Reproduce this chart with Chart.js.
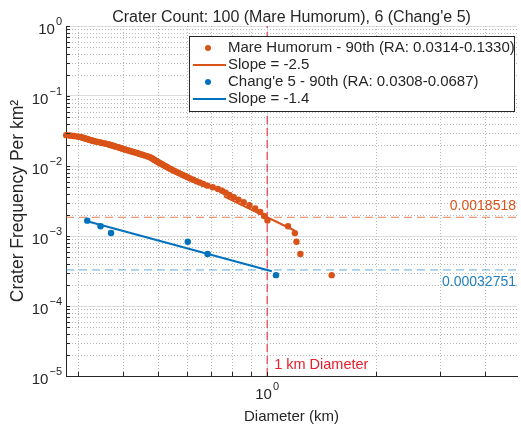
<!DOCTYPE html>
<html>
<head>
<meta charset="utf-8">
<script src="https://cdn.jsdelivr.net/npm/chart.js@4.4.1/dist/chart.umd.min.js"></script>
<style>
  html, body { margin: 0; padding: 0; background: #fff; }
</style>
</head>
<body>
<canvas id="craterChart" width="521" height="427"></canvas>
<script>
// contagem de crateras: Mare Humorum x Chang'e 5
const titulo = "Crater Count: 100 (Mare Humorum), 6 (Chang'e 5)";
const tituloX = 'Diameter (km)';
const tituloY = 'Crater Frequency Per km\u00B2';

const humorumD = [
  0.2790, 0.2846, 0.2886, 0.2929, 0.2970, 0.3013, 0.3061, 0.3080, 0.3099, 0.3119,
  0.3144, 0.3162, 0.3189, 0.3209, 0.3229, 0.3256, 0.3283, 0.3304, 0.3334, 0.3364,
  0.3405, 0.3446, 0.3486, 0.3528, 0.3570, 0.3611, 0.3645, 0.3675, 0.3707, 0.3738,
  0.3779, 0.3809, 0.3841, 0.3882, 0.3914, 0.3957, 0.3989, 0.4032, 0.4075, 0.4117,
  0.4162, 0.4206, 0.4249, 0.4295, 0.4350, 0.4395, 0.4448, 0.4494, 0.4551, 0.4606,
  0.4665, 0.4721, 0.4766, 0.4802, 0.4832, 0.4865, 0.4897, 0.4934, 0.4971, 0.5012,
  0.5050, 0.5095, 0.5143, 0.5192, 0.5242, 0.5292, 0.5345, 0.5403, 0.5461, 0.5530,
  0.5604, 0.5682, 0.5765, 0.5853, 0.5934, 0.6033, 0.6133, 0.6254, 0.6381, 0.6519,
  0.6669, 0.6848, 0.7077, 0.7317, 0.7508, 0.7686, 0.7877, 0.8089, 0.8338, 0.8618,
  0.8937, 0.9271, 0.9568, 0.9813, 1.002, 1.142, 1.193, 1.205, 1.235, 1.507
];
const humorumF = [
  0.02760, 0.02733, 0.02705, 0.02677, 0.02650, 0.02622, 0.02595, 0.02567, 0.02539, 0.02512,
  0.02484, 0.02457, 0.02429, 0.02401, 0.02374, 0.02346, 0.02319, 0.02291, 0.02263, 0.02236,
  0.02208, 0.02181, 0.02153, 0.02125, 0.02098, 0.02070, 0.02043, 0.02015, 0.01987, 0.01960,
  0.01932, 0.01904, 0.01877, 0.01849, 0.01822, 0.01794, 0.01766, 0.01739, 0.01711, 0.01684,
  0.01656, 0.01628, 0.01601, 0.01573, 0.01546, 0.01518, 0.01490, 0.01463, 0.01435, 0.01408,
  0.01380, 0.01352, 0.01325, 0.01297, 0.01270, 0.01242, 0.01214, 0.01187, 0.01159, 0.01132,
  0.01104, 0.01076, 0.01049, 0.01021, 0.00994, 0.00966, 0.00938, 0.00911, 0.00883, 0.00856,
  0.00828, 0.00800, 0.00773, 0.00745, 0.00718, 0.00690, 0.00662, 0.00635, 0.00607, 0.00580,
  0.00552, 0.00524, 0.00497, 0.00469, 0.00442, 0.00414, 0.00386, 0.00359, 0.00331, 0.00304,
  0.00276, 0.00248, 0.00221, 0.00193, 0.00166, 0.00138, 0.00110, 0.000828, 0.000552, 0.000276
];

const changeD = [0.319, 0.347, 0.371, 0.604, 0.685, 1.058];
const changeF = [0.001656, 0.00138, 0.001104, 0.000828, 0.000552, 0.000276];

// retas de ajuste (extremos)
const ajusteHumorumD = [0.76, 1.19];
const ajusteHumorumF = [0.003678, 0.0011987];
const ajusteChangeD = [0.319, 1.03];
const ajusteChangeF = [0.001621, 0.000314];

const refHumorum = 0.0018518;
const refChange = 0.00032751;
const diametroRef = 1;
const rotuloRef = '1 km Diameter';

const xLim = [0.2787, 4.89];
const yLim = [1e-5, 1];
const xExpoentes = [0];
const yExpoentes = [0, -1, -2, -3, -4, -5];

const legendas = [
  'Mare Humorum - 90th (RA: 0.0314-0.1330)',
  'Slope = -2.5',
  "Chang'e 5 - 90th (RA: 0.0308-0.0687)",
  'Slope = -1.4'
];

const LARANJA = '#D95319';
const AZUL = '#0072BD';
const VERMELHO = '#E3202C';
const TEXTO = '#262626';
const FONTE = '"Liberation Sans", Arial, Helvetica, sans-serif';

const pares = (xs, ys) => xs.map((v, i) => ({ x: v, y: ys[i] }));

function ticksLog(min, max, maiores) {
  const out = [];
  for (let e = Math.floor(Math.log10(min)); e <= Math.ceil(Math.log10(max)); e++) {
    for (let m = 1; m <= 9; m++) {
      const v = m * Math.pow(10, e);
      if (v < min * 0.999 || v > max * 1.001) continue;
      if ((m === 1) === maiores) out.push({ value: v, major: m === 1 });
    }
  }
  return out;
}

function dezElevado(ctx, exp, cx, cy, alinhar) {
  const txtExp = exp.replace('-', '\u2212');
  ctx.font = '15px ' + FONTE;
  const wb = ctx.measureText('10').width;
  ctx.font = '11px ' + FONTE;
  const we = ctx.measureText(txtExp).width;
  const x0 = alinhar === 'right' ? cx - wb - we - 1 : cx - (wb + we + 1) / 2;
  ctx.fillStyle = TEXTO;
  ctx.textAlign = 'left';
  ctx.textBaseline = 'middle';
  ctx.font = '15px ' + FONTE;
  ctx.fillText('10', x0, cy + 4);
  ctx.font = '11px ' + FONTE;
  ctx.fillText(txtExp, x0 + wb + 1, cy - 4);
}

// grade secundaria pontilhada, nas posicoes dos ticks menores das escalas
const gradeMenor = {
  id: 'gradeMenor',
  beforeDatasetsDraw(chart) {
    const { ctx, chartArea: a, scales: { xMenor, yMenor } } = chart;
    ctx.save();
    ctx.strokeStyle = '#b9b9b9';
    ctx.lineWidth = 1;
    ctx.setLineDash([1, 2]);
    ctx.beginPath();
    xMenor.ticks.forEach(t => {
      const px = Math.round(xMenor.getPixelForValue(t.value)) + 0.5;
      ctx.moveTo(px, a.top); ctx.lineTo(px, a.bottom);
    });
    yMenor.ticks.forEach(t => {
      const py = Math.round(yMenor.getPixelForValue(t.value)) + 0.5;
      ctx.moveTo(a.left, py); ctx.lineTo(a.right, py);
    });
    ctx.stroke();
    ctx.restore();
  }
};

const desenho = {
  id: 'desenho',
  afterDatasetsDraw(chart) {
    const { ctx, chartArea: a, scales: { x, y, xMenor, yMenor } } = chart;
    ctx.save();

    // marcas dos eixos para dentro
    ctx.strokeStyle = TEXTO;
    ctx.lineWidth = 1;
    ctx.beginPath();
    [...y.ticks, ...yMenor.ticks].forEach(t => {
      const py = Math.round(y.getPixelForValue(t.value)) + 0.5;
      ctx.moveTo(a.left, py); ctx.lineTo(a.left + 4, py);
    });
    [...x.ticks, ...xMenor.ticks].forEach(t => {
      const px = Math.round(x.getPixelForValue(t.value)) + 0.5;
      ctx.moveTo(px, a.bottom); ctx.lineTo(px, a.bottom - 4);
    });
    ctx.stroke();

    // rotulos das linhas de referencia
    ctx.font = '14px ' + FONTE;
    ctx.textAlign = 'right';
    ctx.textBaseline = 'middle';
    ctx.fillStyle = LARANJA;
    ctx.fillText(String(refHumorum), a.right - 1, y.getPixelForValue(refHumorum) - 11);
    ctx.fillStyle = '#1F7FC0';
    ctx.fillText(String(refChange), a.right - 1, y.getPixelForValue(refChange) + 12);
    ctx.fillStyle = VERMELHO;
    ctx.textAlign = 'left';
    ctx.font = '14.5px ' + FONTE;
    ctx.fillText(rotuloRef, x.getPixelForValue(diametroRef) + 7, a.bottom - 11);

    // legenda
    const cx0 = a.left + 123, cx1 = a.right - 2, cy0 = a.top + 10, cy1 = a.top + 86;
    ctx.fillStyle = '#fff';
    ctx.fillRect(cx0, cy0, cx1 - cx0, cy1 - cy0);
    ctx.strokeStyle = '#262626';
    ctx.lineWidth = 1;
    ctx.strokeRect(cx0 + 0.5, cy0 + 0.5, cx1 - cx0 - 1, cy1 - cy0 - 1);
    const cores = [LARANJA, LARANJA, AZUL, AZUL];
    legendas.forEach((txt, i) => {
      const ly = cy0 + 12 + i * 17;
      if (i % 2 === 0) {
        ctx.fillStyle = cores[i];
        ctx.beginPath(); ctx.arc(cx0 + 19, ly, 3, 0, Math.PI * 2); ctx.fill();
      } else {
        ctx.strokeStyle = cores[i]; ctx.lineWidth = 2;
        ctx.beginPath(); ctx.moveTo(cx0 + 4, ly); ctx.lineTo(cx0 + 37, ly); ctx.stroke();
      }
      ctx.fillStyle = TEXTO;
      ctx.font = '15px ' + FONTE;
      ctx.textAlign = 'left';
      ctx.fillText(txt, cx0 + 39, ly);
    });

    // rotulos dos ticks
    yExpoentes.forEach(e => dezElevado(ctx, String(e), a.left - 4, y.getPixelForValue(Math.pow(10, e)), 'right'));
    xExpoentes.forEach(e => dezElevado(ctx, String(e), x.getPixelForValue(Math.pow(10, e)), a.bottom + 15, 'center'));

    // titulos
    ctx.fillStyle = TEXTO;
    ctx.textAlign = 'center';
    ctx.textBaseline = 'middle';
    ctx.font = '16px ' + FONTE;
    ctx.fillText(titulo, (a.left + a.right) / 2, 18);
    ctx.font = '15px ' + FONTE;
    ctx.fillText(tituloX, (a.left + a.right) / 2, a.bottom + 41);
    ctx.save();
    ctx.translate(18, (a.top + a.bottom) / 2);
    ctx.rotate(-Math.PI / 2);
    ctx.font = '17.5px ' + FONTE;
    ctx.fillText(tituloY, 0, 0);
    ctx.restore();

    ctx.restore();
  }
};

const eixoLog = (lim, maiores, extra) => Object.assign({
  type: 'logarithmic',
  min: lim[0],
  max: lim[1],
  afterBuildTicks: s => { s.ticks = ticksLog(lim[0], lim[1], maiores); },
  ticks: { display: false },
  grid: maiores
    ? { color: '#dcdcdc', lineWidth: 1, drawTicks: false }
    : { display: false, drawTicks: false },
  border: maiores
    ? { display: true, color: TEXTO, width: 1 }
    : { display: false }
}, extra);

new Chart(document.getElementById('craterChart'), {
  type: 'scatter',
  data: {
    datasets: [
      { label: legendas[1], data: pares(ajusteHumorumD, ajusteHumorumF), showLine: true,
        borderColor: LARANJA, borderWidth: 2, pointRadius: 0, order: 1 },
      { label: legendas[3], data: pares(ajusteChangeD, ajusteChangeF), showLine: true,
        borderColor: AZUL, borderWidth: 2, pointRadius: 0, order: 1 },
      { label: legendas[0], data: pares(humorumD, humorumF), backgroundColor: LARANJA,
        borderColor: LARANJA, borderWidth: 0, pointRadius: 3.2, clip: false, order: 2 },
      { label: legendas[2], data: pares(changeD, changeF), backgroundColor: AZUL,
        borderColor: AZUL, borderWidth: 0, pointRadius: 3.2, order: 2 },
      { label: 'ref laranja', data: pares(xLim, [refHumorum, refHumorum]), showLine: true,
        borderColor: 'rgba(217,83,25,0.75)', borderWidth: 1, borderDash: [8, 5], pointRadius: 0, order: 3 },
      { label: 'ref azul', data: pares(xLim, [refChange, refChange]), showLine: true,
        borderColor: 'rgba(0,114,189,0.6)', borderWidth: 1, borderDash: [8, 5], pointRadius: 0, order: 3 },
      { label: rotuloRef, data: pares([diametroRef, diametroRef], yLim), showLine: true,
        borderColor: VERMELHO, borderWidth: 1, borderDash: [8, 4], pointRadius: 0, order: 3 }
    ]
  },
  options: {
    responsive: false,
    animation: false,
    layout: { padding: { left: 66, top: 26, right: 1, bottom: 51 } },
    plugins: { legend: { display: false }, tooltip: { enabled: false }, title: { display: false } },
    scales: {
      xMenor: eixoLog(xLim, false, { axis: 'x', position: 'bottom' }),
      yMenor: eixoLog(yLim, false, { axis: 'y', position: 'left' }),
      x: eixoLog(xLim, true, { position: 'bottom' }),
      y: eixoLog(yLim, true, { position: 'left' })
    }
  },
  plugins: [gradeMenor, desenho]
});
</script>
</body>
</html>
